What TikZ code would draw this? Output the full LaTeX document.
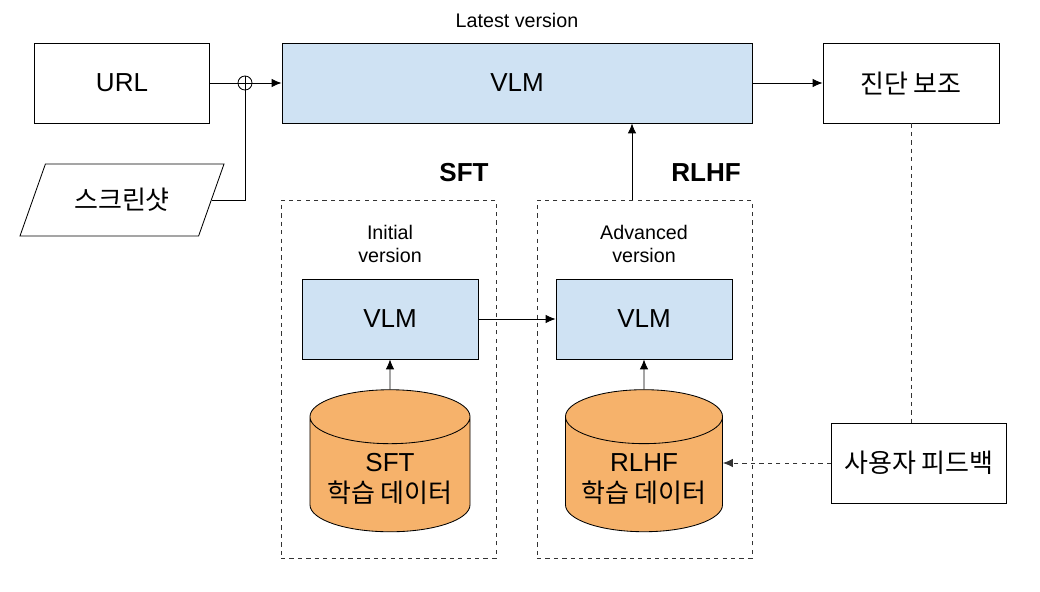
\documentclass[tikz,border=0pt]{standalone}
\usepackage{fontspec}
\setmainfont{Liberation Sans}
\newfontfamily\kr{Noto Sans CJK KR}
\usetikzlibrary{arrows.meta}
\usetikzlibrary{shapes.geometric}

\definecolor{vlmBlue}{HTML}{CFE2F3}
\definecolor{dataOrange}{HTML}{F6B26B}

\begin{document}
\begin{tikzpicture}[x = 0.025cm, y = -0.025cm, font=\fontsize{18.5pt}{22pt}\selectfont, line width = 0.6pt]
	\tikzstyle{boxStyle} = [shape = rectangle, draw, minimum width = 4.4cm, minimum height = 2cm, inner sep = 2pt]
	\tikzstyle{vlmStyle} = [boxStyle, fill = vlmBlue]
	\tikzstyle{dataStyle} = [shape = cylinder, shape border rotate = 90, aspect = 0.4, draw, fill = dataOrange, minimum width = 4cm, minimum height = 3.55cm, align = center, font = \fontsize{18.5pt}{22pt}\selectfont]
	\tikzstyle{groupStyle} = [shape = rectangle, draw = black!80, dashed, line width = 0.55pt, minimum width = 5.375cm, minimum height = 8.95cm]
	\tikzstyle{smallText} = [font = \fontsize{14pt}{17pt}\selectfont, align = center]
	\tikzstyle{stageText} = [font = \fontsize{18.5pt}{22pt}\selectfont\bfseries]
	\tikzstyle{arrowStyle} = [-{Latex[length = 7pt, width = 6pt]}]
	\useasboundingbox (0, 0) rectangle (1040, 592);
	% inputs
	\node[boxStyle, minimum width = 4.375cm] (url) at (122, 83) {URL};
	\node[shape = trapezium, trapezium left angle = 62, trapezium right angle = 118, trapezium stretches = true, draw, minimum width = 5.125cm, minimum height = 1.8cm] (shot) at (122, 200) {\kr 스크린샷};
	\node[shape = circle, draw, minimum size = 0.35cm, inner sep = 0pt,
		path picture = {\draw (path picture bounding box.north) -- (path picture bounding box.south) (path picture bounding box.west) -- (path picture bounding box.east);}] (join) at (245, 83) {};
	% main model
	\node[vlmStyle, minimum width = 11.75cm] (vlmTop) at (517, 83) {VLM};
	\node[smallText] (latest) at (517, 20) {Latest version};
	\node[boxStyle] (diag) at (911, 83) {\kr 진단 보조};
	\node[boxStyle, minimum width = 4.375cm] (feedback) at (919, 463) {\kr 사용자 피드백};
	% training stages
	\node[groupStyle] (sftGroup) at (388.5, 379) {};
	\node[groupStyle] (rlhfGroup) at (644.5, 379) {};
	\node[stageText] (sftLabel) at (464, 173) {SFT};
	\node[stageText] (rlhfLabel) at (706, 173) {RLHF};
	\node[smallText] (initial) at (390, 244) {Initial\\version};
	\node[smallText] (advanced) at (644, 244) {Advanced\\version};
	\node[vlmStyle] (vlmInit) at (390, 319) {VLM};
	\node[vlmStyle] (vlmAdv) at (644, 319) {VLM};
	\node[dataStyle] (sftData) at (390, 479) {SFT\\{\kr 학습 데이터}};
	\node[dataStyle, minimum width = 3.925cm] (rlhfData) at (644, 479) {RLHF\\{\kr 학습 데이터}};
	% connectors
	\draw (url) -- (join);
	\draw[arrowStyle] (join) -- (vlmTop);
	\draw (shot.east) -| (join);
	\draw[arrowStyle] (vlmTop) -- (diag);
	\draw[arrowStyle] (rlhfGroup.north -| 632, 0) -- (vlmTop.south -| 632, 0);
	\draw[arrowStyle] (vlmInit) -- (vlmAdv);
	\draw[arrowStyle] (sftData) -- (vlmInit);
	\draw[arrowStyle] (rlhfData) -- (vlmAdv);
	\draw[draw = black!80, dashed, line width = 0.55pt] (diag) -- (diag |- feedback.north);
	\draw[arrowStyle, draw = black!80, dashed, line width = 0.55pt] (feedback) -- (feedback -| rlhfData.east);
\end{tikzpicture}
\end{document}
